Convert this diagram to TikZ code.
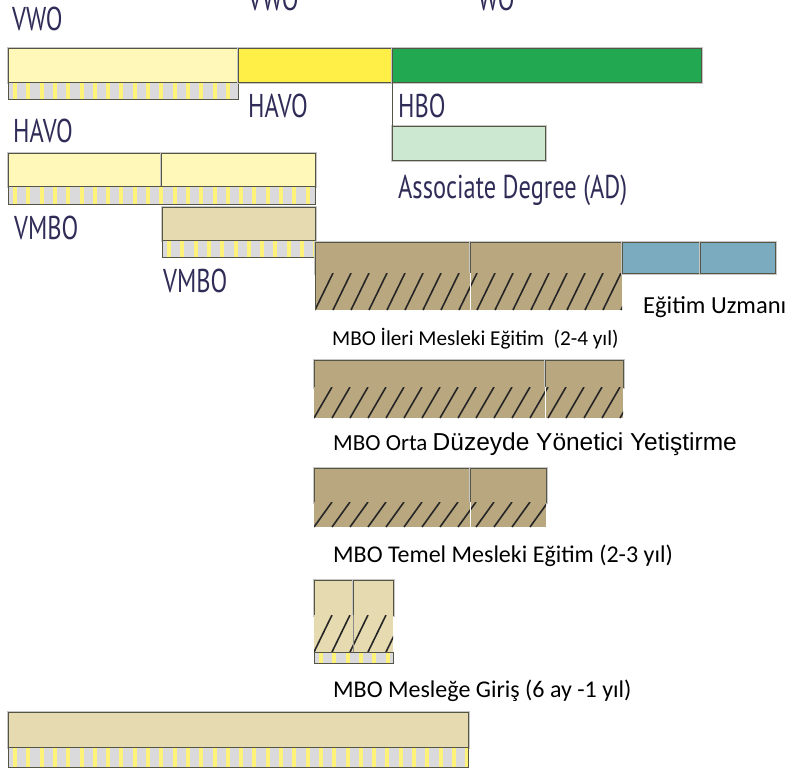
\documentclass[tikz,border=0pt]{standalone}
\usepackage{fontspec}
\setmainfont{Carlito}
\newfontfamily\condfont[FakeStretch=0.74]{PT Sans}
\newfontfamily\arialfont{Liberation Sans}
\definecolor{lyellow}{RGB}{255,248,184}
\definecolor{yyellow}{RGB}{255,239,70}
\definecolor{ggreen}{RGB}{34,168,80}
\definecolor{lgreen}{RGB}{204,232,208}
\definecolor{tan}{RGB}{229,218,176}
\definecolor{brown}{RGB}{185,167,128}
\definecolor{bblue}{RGB}{122,171,190}
\definecolor{stripegray}{RGB}{218,218,220}
\definecolor{stripeyel}{RGB}{255,242,120}
\definecolor{edge}{RGB}{85,85,70}
\definecolor{labcol}{RGB}{48,44,88}
\tikzset{
  boxline/.style={draw=edge, line width=0.9pt},
  shbox/.style={boxline, preaction={draw=black!22, line width=3pt}},
  hatchline/.style={draw=black!85, line width=1.6pt},
  lab/.style={anchor=base west, inner sep=0pt, text=labcol, font=\condfont\fontsize{33}{33}\selectfont},
  captext/.style={anchor=base west, inner sep=0pt, text=black},
}
\newcommand\stripebar[4]{%
  \begin{scope}
    \clip (#1,#2) rectangle (#3,#4);
    \fill[stripegray] (#1,#2) rectangle (#3,#4);
    \foreach \s in {0,13.3,...,470}{\fill[stripeyel] ({#1+5+\s},#2) rectangle ({#1+9+\s},#4);}
  \end{scope}
  \draw[boxline] (#1,#2) rectangle (#3,#4);}
\newcommand\hatchbar[5]{%
  \begin{scope}
    \clip (#1,#2) rectangle (#3,#4);
    \fill[#5] (#1,#2) rectangle (#3,#4);
    \foreach \s in {0,18,...,330}{\draw[hatchline] ({#1+\s},#4) -- ({#1+\s+18},#2);}
  \end{scope}}
\begin{document}
\begin{tikzpicture}[x=1pt,y=-1pt]
\useasboundingbox (0,0) rectangle (797,771);
% row 1
\draw[shbox, fill=lyellow] (8,48) rectangle (238,82);
\stripebar{8}{82}{238}{99}
\draw[shbox, fill=yyellow] (238,48) rectangle (392,82);
\draw[shbox, fill=ggreen] (392,48) rectangle (701,82);
\draw[shbox, fill=lgreen] (392,126) rectangle (545,160);
\draw[boxline] (392,82) -- (392,160);
% row 2
\draw[shbox, fill=lyellow] (8,153) rectangle (161,186);
\draw[shbox, fill=lyellow] (161,153) rectangle (315,186);
\stripebar{8}{186}{315}{204}
\draw[shbox, fill=tan] (162,207) rectangle (315,240);
\stripebar{162}{240}{315}{257}
% MBO ileri
\draw[shbox, fill=brown] (315,242) rectangle (470,273);
\draw[shbox, fill=brown] (470,242) rectangle (622,273);
\hatchbar{315}{273}{622}{310}{brown}
\draw[white, line width=1pt] (470,273) -- (470,310);
\draw[boxline] (315,273) -- (315,310);
\draw[shbox, fill=bblue] (622,242) rectangle (700,273);
\draw[shbox, fill=bblue] (700,242) rectangle (775,273);
% MBO orta
\draw[shbox, fill=brown] (314,360) rectangle (545,387);
\draw[shbox, fill=brown] (545,360) rectangle (623,387);
\hatchbar{314}{387}{623}{418}{brown}
\draw[white, line width=1pt] (545,387) -- (545,418);
% MBO temel
\draw[shbox, fill=brown] (314,468) rectangle (470,502);
\draw[shbox, fill=brown] (470,468) rectangle (546,502);
\hatchbar{314}{502}{546}{527}{brown}
\draw[white, line width=1pt] (470,502) -- (470,527);
% MBO giris
\draw[shbox, fill=tan] (314,580) rectangle (353,615);
\draw[shbox, fill=tan] (353,580) rectangle (393,615);
\hatchbar{314}{615}{393}{652}{tan}
\draw[black!45, line width=0.8pt] (353,615) -- (353,652);
\stripebar{314}{652}{393}{663}
% bottom
\draw[shbox, fill=tan] (8,712) rectangle (468,747);
\stripebar{8}{747}{468}{767}
% labels
\node[lab] (tvwo) at (12,30) {VWO};
\node[lab] (tvwo2) at (248,10) {VWO};
\node[lab] (two) at (478,10) {WO};
\node[lab] (thavo) at (248,117) {HAVO};
\node[lab] (thbo) at (398,117) {HBO};
\node[lab] (tad) at (398,198) {Associate Degree (AD)};
\node[lab] (thavo2) at (13,142) {HAVO};
\node[lab] (tvmbo) at (14,239) {VMBO};
\node[lab] (tvmbo2) at (163,292) {VMBO};
\node[captext, font=\fontsize{24.5}{24.5}\selectfont] (tuzman) at (643,313) {Eğitim Uzmanı};
\node[captext, font=\fontsize{21.2}{21.2}\selectfont] (tileri) at (332,345) {MBO İleri Mesleki Eğitim\ \ (2-4 yıl)};
\node[captext, font=\fontsize{23}{23}\selectfont] (torta) at (333,450) {MBO Orta {\arialfont\fontsize{24.5}{24.5}\selectfont Düzeyde Yönetici Yetiştirme}};
\node[captext, font=\fontsize{24}{24}\selectfont] (ttemel) at (333,562) {MBO Temel Mesleki Eğitim (2-3 yıl)};
\node[captext, font=\fontsize{24}{24}\selectfont] (tgiris) at (333,697) {MBO Mesleğe Giriş (6 ay -1 yıl)};
\end{tikzpicture}
\end{document}
